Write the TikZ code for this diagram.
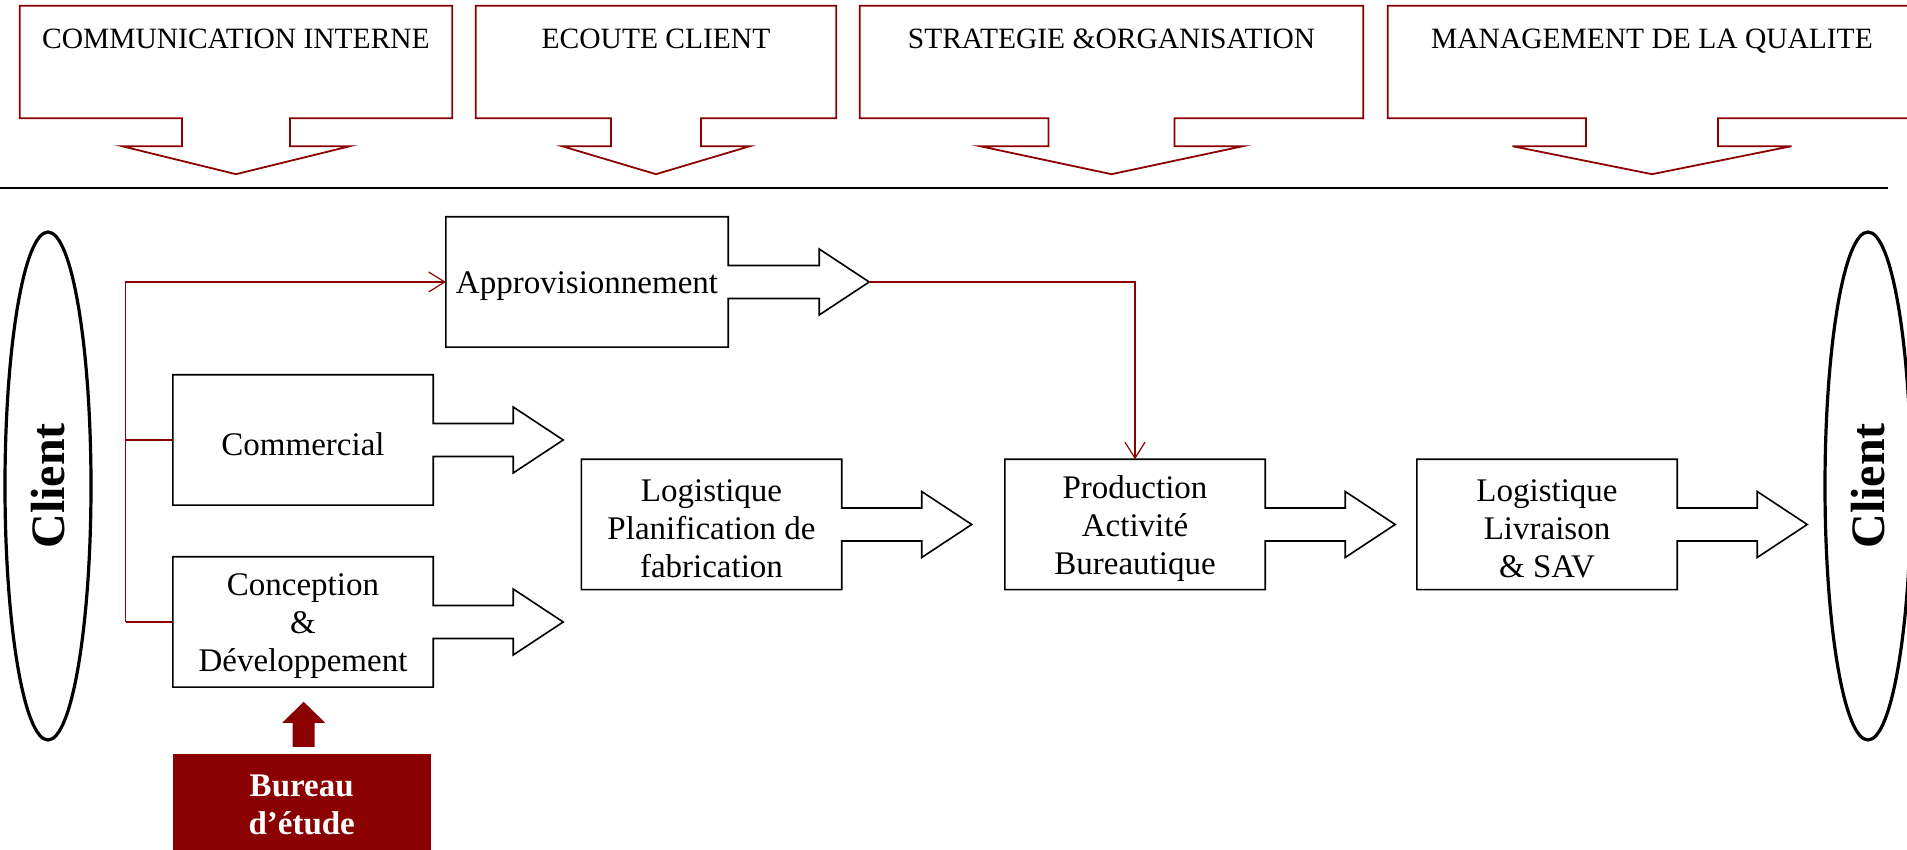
\documentclass[tikz,border=0pt]{standalone}
\usepackage{fontspec}
\setmainfont{Liberation Serif}
\usetikzlibrary{positioning,calc,shapes.geometric,arrows.meta}
\definecolor{darkred}{RGB}{139,0,0}

\tikzset{
  procbox/.style={rectangle, minimum width=260pt, minimum height=130pt, inner sep=0pt,
    align=center, font=\fontsize{33}{38}\selectfont},
  outline/.style={draw=black, line width=1.6pt},
  topbox/.style={rectangle, inner sep=0pt, text height=43pt, text depth=69pt,
    font=\fontsize{29.5}{34}\selectfont},
  topline/.style={draw=darkred, line width=1.8pt},
  client/.style={ellipse, draw, line width=3.2pt, rotate=90, minimum width=508pt,
    minimum height=86pt, inner sep=0pt, font=\fontsize{48}{56}\selectfont\bfseries},
  bureau/.style={rectangle, fill=darkred, text=white, minimum width=258pt,
    minimum height=102pt, inner sep=0pt, align=center,
    font=\fontsize{33}{38}\selectfont\bfseries},
  link/.style={draw=darkred, line width=1.2pt},
  linktip/.style={-{Straight Barb[length=16pt,width=20pt]}}
}

% pushes the first line of a box a little down
\newcommand{\topstrut}{\rule{0pt}{31pt}}

% box with a fat arrow on its right side
\newcommand{\flowarrow}[2][80]{%
  \draw[outline] (#2.north west) -- (#2.north east) -- ([yshift=16.5pt]#2.east)
    -- ++(#1,0) -- ++(0,16.5) -- ++(50,-33) coordinate (#2-tip) -- ++(-50,-33)
    -- ++(0,16.5) -- ++(-#1,0) -- (#2.south east) -- (#2.south west) -- cycle;}

% header box with an arrow pointing down
\newcommand{\downcallout}[3]{%
  \draw[topline] (#1.south west) -- (#1.north west) -- (#1.north east) -- (#1.south east)
    -- ([xshift=#2pt]#1.south) -- ++(0,-28) -- ++(#3-#2,0) -- ($(#1.south)+(0,-56)$)
    -- ++(-#3,28) -- ++(#3-#2,0) -- ++(0,28) -- cycle;}

\begin{document}
\begin{tikzpicture}[x=1pt, y=1pt, on grid, node distance=420pt]
  \useasboundingbox (0,0) rectangle (1907,850);

  % headers
  \node[topbox, minimum width=432pt] (comint) at (236,788) {COMMUNICATION INTERNE};
  \node[topbox, minimum width=360pt, right=420pt of comint] (ecoute) {ECOUTE CLIENT};
  \node[topbox, minimum width=503pt, right=455.5pt of ecoute] (strat) {STRATEGIE \&ORGANISATION};
  \node[topbox, minimum width=528pt, right=540.5pt of strat] (qualite) {MANAGEMENT DE LA QUALITE};
  \downcallout{comint}{54}{114}
  \downcallout{ecoute}{45}{94}
  \downcallout{strat}{63}{131.5}
  \downcallout{qualite}{66}{139.5}

  \draw[line width=2pt] (0,662) -- (1888,662);

  % clients
  \node[client] (clientL) at (48,364) {Client};
  \node[client] (clientR) at (1868,364) {Client};

  % process
  \node[procbox, minimum width=282pt] (appro) at (587,568) {\topstrut Approvisionnement};
  \node[procbox] (conc) at (303,228) {\topstrut Conception\\\&\\Développement};
  \node[procbox, above=182pt of conc] (com) {\topstrut Commercial};
  \node[procbox] (plan) at (711.5,325.5) {\topstrut Logistique\\Planification de\\fabrication};
  \node[procbox, right=423.5pt of plan] (prod) {\topstrut Production\\Activité\\Bureautique};
  \node[procbox, right=412pt of prod] (livr) {\topstrut Logistique\\Livraison\\\& SAV};
  \flowarrow[91]{appro}
  \flowarrow{com}
  \flowarrow{conc}
  \flowarrow{plan}
  \flowarrow{prod}
  \flowarrow{livr}

  % links
  \coordinate (trunk) at (125.5,0);
  \draw[link] (trunk |- com.west) -- (com.west);
  \draw[link] (trunk |- conc.west) -- (conc.west);
  \draw[link, linktip] (trunk |- conc.west) -- (trunk |- appro.west) -- (appro.west);
  \draw[link, linktip] (appro-tip) -| (prod.north);

  % bureau d'etude
  \node[bureau] (bureau) at (301.7,45) {Bureau\\d’étude};
  \fill[darkred] ([shift={(-9,7)}]bureau.north) -- ++(22,0) -- ++(0,24) -- ++(10.5,0)
    -- ++(-21.5,21) -- ++(-21.5,-21) -- ++(10.5,0) -- cycle;
\end{tikzpicture}
\end{document}
